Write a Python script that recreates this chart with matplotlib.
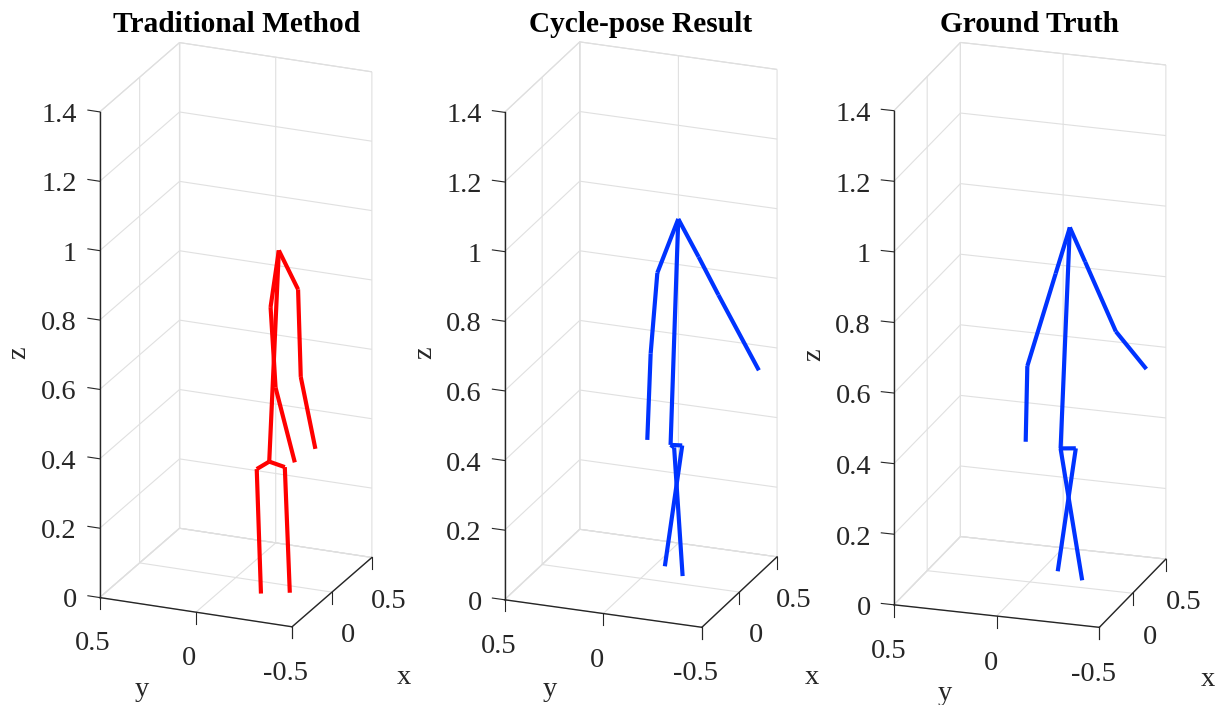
import numpy as np
import matplotlib
matplotlib.use("Agg")
import matplotlib.pyplot as plt

plt.rcParams['font.family'] = ['Liberation Serif', 'DejaVu Serif']
plt.rcParams['grid.color'] = '#e0e0e0'
plt.rcParams['grid.linewidth'] = 0.8

titles = ["Traditional Method", "Cycle-pose Result", "Ground Truth"]
colors = ["#ff0000", "#0033ff", "#0033ff"]

# joints: neck, r_shoulder, r_elbow, r_wrist, l_shoulder, l_elbow, l_wrist,
#         pelvis, l_hip, r_hip, l_foot, r_foot
bones = [(0, 1), (1, 2), (2, 3), (0, 4), (4, 5), (5, 6),
         (0, 7), (7, 8), (7, 9), (8, 10), (9, 11)]

trad_x = [-0.15] * 12
trad_y = [-0.286, -0.386, -0.400, -0.476, -0.243, -0.269, -0.369,
          -0.236, -0.171, -0.317, -0.193, -0.343]
trad_z = [0.997, 0.893, 0.642, 0.441, 0.830, 0.600, 0.393,
          0.384, 0.357, 0.375, 0.000, 0.015]

cycle_x = [-0.15, -0.05, 0.10, 0.30, -0.15, -0.15, -0.15,
           -0.15, -0.15, -0.15, -0.15, -0.15]
cycle_y = [-0.247, -0.312, -0.355, -0.484, -0.141, -0.107, -0.090,
           -0.208, -0.226, -0.267, -0.269, -0.179]
cycle_z = [1.082, 0.958, 0.822, 0.575, 0.919, 0.684, 0.435,
           0.430, 0.424, 0.433, 0.058, 0.079]

gt_x = [-0.15, -0.05, 0.10, 0.25, -0.15, -0.15, -0.15,
        -0.15, -0.15, -0.15, -0.15, -0.15]
gt_y = [-0.243, -0.285, -0.386, -0.486, -0.174, -0.036, -0.028,
        -0.198, -0.198, -0.272, -0.303, -0.184]
gt_z = [1.049, 0.935, 0.715, 0.586, 0.914, 0.643, 0.428,
        0.420, 0.419, 0.425, 0.053, 0.071]

poses = [(trad_x, trad_y, trad_z), (cycle_x, cycle_y, cycle_z), (gt_x, gt_y, gt_z)]

z_ticks = [0, 0.2, 0.4, 0.6, 0.8, 1.0, 1.2, 1.4]
z_ticklabels = ['0', '0.2', '0.4', '0.6', '0.8', '1', '1.2', '1.4']
xy_ticks = [-0.5, 0, 0.5]

# camera for each subplot (elevation, azimuth) and box shape
views = [(21.3, -157.3), (21.2, -158.9), (19.6, -161.9)]
aspects = [(207.5, 209.2, 523.1), (209.5, 212.2, 524.5), (214.7, 216.8, 526.2)]
zooms = [0.968, 0.973, 0.981]
# axes rectangles in pixels: left, bottom (square side 600)
rects_px = [(-72.3, 62.2), (332.7, 62.3), (721.8, 62.0)]
title_x = [236.5, 640.8, 1029.9]
# axis-name positions in pixels from the top-left corner
xlabel_px = [(404, 678), (812, 677), (1208, 680)]
ylabel_px = [(142, 690), (550, 690), (945, 693)]
zlabel_px = [(19, 353), (425, 353), (814, 355)]

W, H = 1222, 705
side = 600
ink = '#262626'
fs = 20.5
fig = plt.figure(figsize=(W / 100, H / 100), dpi=100)

for i in range(3):
    lx, by = rects_px[i]
    ax = fig.add_axes([lx / W, by / H, side / W, side / H], projection='3d')
    ax.set_facecolor('none')
    ax.set_proj_type('ortho')
    ax.view_init(elev=views[i][0], azim=views[i][1])
    ax.set_box_aspect(aspects[i], zoom=zooms[i])

    px, py, pz = poses[i]
    for a, b in bones:
        ax.plot([px[a], px[b]], [py[a], py[b]], [pz[a], pz[b]],
                color=colors[i], lw=3.0, solid_capstyle='butt')

    ax.set_xlim(-0.5, 0.5)
    ax.set_ylim(-0.5, 0.5)
    ax.set_zlim(0, 1.4)
    ax.set_xticks(xy_ticks)
    ax.set_xticklabels(['', '0', '0.5'])
    ax.set_yticks(xy_ticks)
    ax.set_yticklabels(['-0.5', '0', '0.5'])
    ax.set_zticks(z_ticks)
    ax.set_zticklabels(z_ticklabels)
    ax.tick_params(labelsize=fs, colors=ink)
    plt.setp(ax.get_xticklabels(), va='center')
    plt.setp(ax.get_yticklabels(), va='center')
    plt.setp(ax.get_zticklabels(), ha='right', va='center')
    ax.xaxis.set_tick_params(pad=11.1)
    ax.yaxis.set_tick_params(pad=10.8)
    ax.zaxis.set_tick_params(pad=10.9)

    for axis in (ax.xaxis, ax.yaxis, ax.zaxis):
        axis.set_pane_color((1, 1, 1, 1))
        axis.pane.set_edgecolor('#dadada')
        axis.pane.set_linewidth(0.8)
        axis.line.set_color(ink)
        axis.line.set_linewidth(1.0)
        axis._axinfo['tick']['inward_factor'] = 0.0

    # x and y ticks hang straight down, z ticks point away along +y
    ax.xaxis._get_tickdir = lambda position: 2
    ax.yaxis._get_tickdir = lambda position: 2
    ax.zaxis._get_tickdir = lambda position: 1
    ax.xaxis._axinfo['tick']['outward_factor'] = 0.3
    ax.yaxis._axinfo['tick']['outward_factor'] = 0.3
    ax.zaxis._axinfo['tick']['outward_factor'] = 0.77

    fig.text(title_x[i] / W, 1 - 31.7 / H, titles[i], ha='center', va='baseline',
             fontsize=21.2, fontweight='bold')
    fig.text(xlabel_px[i][0] / W, 1 - xlabel_px[i][1] / H, 'x',
             ha='center', va='center', fontsize=fs, color=ink)
    fig.text(ylabel_px[i][0] / W, 1 - ylabel_px[i][1] / H, 'y',
             ha='center', va='center', fontsize=fs, color=ink)
    fig.text(zlabel_px[i][0] / W, 1 - zlabel_px[i][1] / H, 'z',
             ha='center', va='center', fontsize=fs, color=ink, rotation=90)

fig.savefig('out.png', dpi=100, facecolor='white')
